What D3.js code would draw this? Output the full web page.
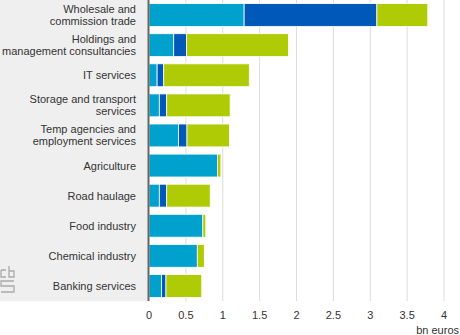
<!DOCTYPE html>
<html>
<head>
<meta charset="utf-8">
<script src="https://cdn.jsdelivr.net/npm/d3@7"></script>
<style>
  body { margin: 0; background: #fff; }
  svg { font-family: Arial, "Liberation Sans", sans-serif; }
</style>
</head>
<body>
<div id="graph"></div>
<script>
// categories (top to bottom)
const categories = [
  ["Wholesale and", "commission trade"],
  ["Holdings and", "management consultancies"],
  ["IT services"],
  ["Storage and transport", "services"],
  ["Temp agencies and", "employment services"],
  ["Agriculture"],
  ["Road haulage"],
  ["Food industry"],
  ["Chemical industry"],
  ["Banking services"]
]
// three stacked series, bn euros
const serieA = [1.29, 0.335, 0.11, 0.14, 0.40, 0.93, 0.14, 0.73, 0.655, 0.17]
const serieB = [1.80, 0.175, 0.09, 0.10, 0.115, 0, 0.10, 0, 0, 0.06]
const serieC = [0.69, 1.38, 1.16, 0.86, 0.575, 0.045, 0.59, 0.04, 0.095, 0.485]
const xTicks = [0, 0.5, 1, 1.5, 2, 2.5, 3, 3.5, 4]
const colors = ["#00a1cd", "#0058b8", "#afcb05"]

const W = 460, H = 335
const plotLeft = 149, plotRight = 444, plotTop = 0, plotBottom = 301

const svg = d3.select("#graph").append("svg")
  .attr("width", W).attr("height", H)

// grey label panel
svg.append("rect")
  .attr("x", 0).attr("y", plotTop)
  .attr("width", plotLeft).attr("height", plotBottom - plotTop)
  .attr("fill", "#efefef")

let x = d3.scaleLinear().domain([0, 4]).range([plotLeft, plotRight])
let y = d3.scaleBand().domain(d3.range(categories.length))
  .range([plotTop, plotBottom]).paddingInner(0.24).paddingOuter(0.12)

// gridlines
svg.append("g").selectAll("line")
  .data(xTicks.slice(1))
  .join("line")
  .attr("x1", d => x(d)).attr("x2", d => x(d))
  .attr("y1", plotTop).attr("y2", plotBottom)
  .attr("stroke", "#dcdcdc").attr("stroke-width", 1)

// stacked bars
const rows = categories.map((c, i) => ({ i: i, a: serieA[i], b: serieB[i], c: serieC[i] }))
const stack = d3.stack().keys(["a", "b", "c"])(rows)

svg.append("g").selectAll("g")
  .data(stack)
  .join("g")
  .attr("fill", (d, k) => colors[k])
  .selectAll("rect")
  .data(d => d.filter(s => s[1] - s[0] > 0))
  .join("rect")
  .attr("x", d => x(d[0]))
  .attr("width", d => x(d[1]) - x(d[0]))
  .attr("y", d => y(d.data.i))
  .attr("height", y.bandwidth())
  .attr("stroke", "#fff")
  .attr("stroke-width", 0.8)

// axis line
svg.append("line")
  .attr("x1", plotLeft - 0.5).attr("x2", plotLeft - 0.5)
  .attr("y1", plotTop).attr("y2", plotBottom)
  .attr("stroke", "#666").attr("stroke-width", 2)

// category labels
let labels = svg.append("g").selectAll("text")
  .data(categories)
  .join("text")
  .attr("text-anchor", "end")
  .attr("font-size", 11)
  .attr("fill", "#333")
  .attr("x", 136)
  .attr("y", (d, i) => y(i) + y.bandwidth() / 2 - (d.length - 1) * 6 + 4)
labels.selectAll("tspan")
  .data(d => d)
  .join("tspan")
  .attr("x", 136)
  .attr("dy", (d, j) => j === 0 ? 0 : 12)
  .text(d => d)

// x tick labels
svg.append("g").selectAll("text")
  .data(xTicks)
  .join("text")
  .attr("x", d => x(d))
  .attr("y", 319)
  .attr("text-anchor", "middle")
  .attr("font-size", 11)
  .attr("fill", "#333")
  .text(d => d)

svg.append("text")
  .attr("x", 459).attr("y", 334)
  .attr("text-anchor", "end")
  .attr("font-size", 11)
  .attr("fill", "#333")
  .text("bn euros")

// small cbs logo (approximation)
const logo = svg.append("g")
  .attr("fill", "none").attr("stroke", "#aaa").attr("stroke-width", 1.3)
logo.append("path").attr("d", "M1,270 h5 M1,270 v7 h5")
logo.append("path").attr("d", "M9,266 v11 h5 v-6 h-5")
logo.append("path").attr("d", "M14,281 h-13 v5 h13 v6 h-13")
</script>
</body>
</html>
